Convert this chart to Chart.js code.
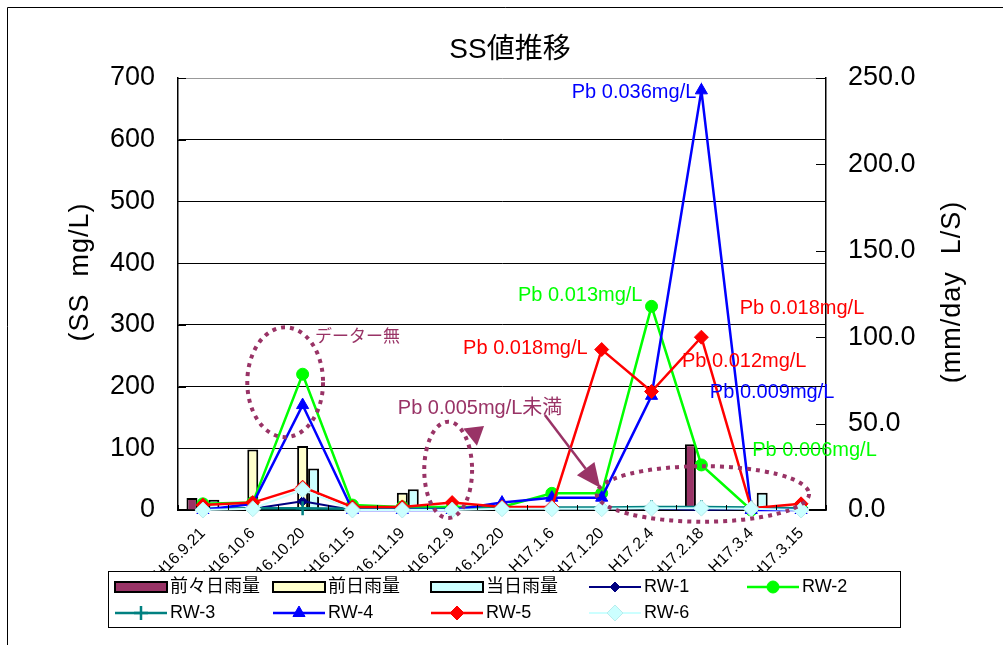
<!DOCTYPE html>
<html lang="ja">
<head>
<meta charset="utf-8">
<title>SS値推移</title>
<script src="https://cdn.jsdelivr.net/npm/chart.js@4.4.1/dist/chart.umd.min.js"></script>
<style>
  html, body { margin: 0; padding: 0; background: #fff; }
  #wrap { width: 1003px; height: 645px; }
</style>
</head>
<body>
<div id="wrap"><canvas id="ssChart" width="1003" height="645"></canvas></div>
<script>
const FONT = "'Liberation Sans', Arial, 'Noto Sans CJK JP', sans-serif";

// sampling dates
const dates = ['H16.9.21', 'H16.10.6', 'H16.10.20', 'H16.11.5', 'H16.11.19', 'H16.12.9', 'H16.12.20',
               'H17.1.6', 'H17.1.20', 'H17.2.4', 'H17.2.18', 'H17.3.4', 'H17.3.15'];

// rainfall (mm/day) - right axis
const rain2DaysBefore = [7, 0, 0, 0, 0, 0, 0, 0, 0, 0, 38, 0, 0];
const rainDayBefore   = [0, 35, 37, 0, 10, 0, 0, 0, 0, 0, 0, 0, 0];
const rainSameDay     = [6, 0, 24, 0, 12, 0, 0, 0, 0, 0, 0, 10, 0];

// SS (mg/L) at each well - left axis
const rw1 = [2, 2, 14, 0, 2, 2, 3, 3, 3, 3, 0, 2, 2];
const rw2 = [10, 12, 220, 8, 5, 5, 5, 27, 27, 330, 73, 0, 3];
const rw3 = [2, 3, 3, 2, 2, 2, 3, 4, 4, 5, 5, 4, 3];
const rw4 = [0, 10, 170, 0, 0, 0, 12, 20, 20, 185, 680, 0, 0];
const rw5 = [8, 12, 37, 5, 5, 12, 5, 5, 260, 192, 280, 3, 10];
const rw6 = [0, 2, 33, 0, 0, 0, 2, 2, 2, 3, 3, 2, 0];

// axis ranges
const ssMax = 700, ssStep = 100;
const rainMax = 250, rainStep = 50;

// lead notes, placed at (category index, SS value)
const notes = [
  { text: 'Pb 0.036mg/L', color: '#0000ff', at: [7.40, 676] },
  { text: 'Pb 0.013mg/L', color: '#00ff00', at: [6.32, 348] },
  { text: 'Pb 0.018mg/L', color: '#ff0000', at: [10.77, 327] },
  { text: 'Pb 0.018mg/L', color: '#ff0000', at: [5.22, 262] },
  { text: 'Pb 0.012mg/L', color: '#ff0000', at: [9.61, 240] },
  { text: 'Pb 0.009mg/L', color: '#0000ff', at: [10.17, 191] },
  { text: 'Pb 0.006mg/L', color: '#00ff00', at: [11.02, 97] },
  { text: 'Pb 0.005mg/L未満', color: '#993366', at: [3.91, 165] },
  { text: 'データー無', color: '#993366', at: [2.25, 280], size: 17 }
];
// dotted rings: centre (index, value), radius (index units, value units)
const rings = [
  { at: [1.65, 207], r: [0.76, 89] },
  { at: [4.92, 65], r: [0.48, 78] },
  { at: [10.03, 26], r: [2.13, 45] }
];
// arrows: from -> to, in (index, value)
const arrows = [
  { from: [5.36, 118], to: [5.64, 136], shaft: false },
  { from: [6.86, 154], to: [7.97, 36], shaft: true }
];

function lineSet(label, data, color, style, radius, order, extra) {
  return Object.assign({
    type: 'line', label, data, yAxisID: 'y', order, clip: false,
    borderColor: color, backgroundColor: color,
    pointBackgroundColor: color, pointBorderColor: color,
    pointStyle: style, pointRadius: radius, pointHoverRadius: radius,
    borderWidth: 2.5, pointBorderWidth: 1, tension: 0
  }, extra || {});
}

function barSet(label, data, color) {
  return {
    type: 'bar', label, data, yAxisID: 'y1', order: 20,
    backgroundColor: color, borderColor: '#000', borderWidth: 2,
    categoryPercentage: 0.66, barPercentage: 1.0
  };
}

const decor = {
  id: 'decor',
  afterDraw(chart) {
    const ctx = chart.ctx;
    const xs = chart.scales.x, ys = chart.scales.y, yr = chart.scales.y1;
    const area = chart.chartArea;
    const px = i => xs.getPixelForValue(i);
    const py = v => ys.getPixelForValue(v);

    ctx.save();
    // outer frame
    ctx.strokeStyle = '#000';
    ctx.lineWidth = 1;
    ctx.beginPath();
    ctx.moveTo(7.5, 645); ctx.lineTo(7.5, 7.5); ctx.lineTo(1003, 7.5);
    ctx.stroke();

    // inside tick marks
    ctx.beginPath();
    for (let v = 0; v <= ssMax; v += ssStep) {
      const y = Math.round(py(v)) + 0.5;
      ctx.moveTo(area.left, y); ctx.lineTo(area.left + 8, y);
    }
    for (let v = 0; v <= rainMax; v += rainStep) {
      const y = Math.round(yr.getPixelForValue(v)) + 0.5;
      ctx.moveTo(area.right - 10, y); ctx.lineTo(area.right, y);
    }
    for (let i = 0; i <= dates.length; i++) {
      const x = Math.round(px(i - 0.5)) + 0.5;
      ctx.moveTo(x, area.bottom); ctx.lineTo(x, area.bottom - 5);
    }
    ctx.stroke();

    // title and axis titles
    ctx.fillStyle = '#000';
    ctx.textAlign = 'center';
    ctx.textBaseline = 'middle';
    ctx.font = '28px ' + FONT;
    ctx.fillText('SS値推移', 510, 50);
    ctx.font = '27px ' + FONT;
    ctx.letterSpacing = '1px';
    ctx.save();
    ctx.translate(81, 272); ctx.rotate(-Math.PI / 2);
    ctx.fillText('(SS  mg/L)', 0, 0);
    ctx.restore();
    ctx.save();
    ctx.translate(953, 292); ctx.rotate(-Math.PI / 2);
    ctx.fillText('(mm/day  L/S)', 0, 0);
    ctx.restore();
    ctx.letterSpacing = '0px';

    // dotted rings
    ctx.strokeStyle = '#993366';
    ctx.lineWidth = 4;
    ctx.setLineDash([4, 5]);
    rings.forEach(r => {
      const cx = px(r.at[0]), cy = py(r.at[1]);
      const rx = px(r.at[0] + r.r[0]) - cx, ry = cy - py(r.at[1] + r.r[1]);
      ctx.beginPath();
      ctx.ellipse(cx, cy, rx, ry, 0, 0, Math.PI * 2);
      ctx.stroke();
    });
    ctx.setLineDash([]);

    // arrows
    ctx.fillStyle = '#993366';
    ctx.lineWidth = 2.5;
    arrows.forEach(a => {
      const x1 = px(a.from[0]), y1 = py(a.from[1]);
      const x2 = px(a.to[0]), y2 = py(a.to[1]);
      const len = Math.hypot(x2 - x1, y2 - y1);
      const ux = (x2 - x1) / len, uy = (y2 - y1) / len;
      const head = a.shaft ? 24 : len, half = 11;
      const bx = x2 - ux * head, by = y2 - uy * head;
      if (a.shaft) {
        ctx.beginPath(); ctx.moveTo(x1, y1); ctx.lineTo(bx, by); ctx.stroke();
      }
      ctx.beginPath();
      ctx.moveTo(x2, y2);
      ctx.lineTo(bx - uy * half, by + ux * half);
      ctx.lineTo(bx + uy * half, by - ux * half);
      ctx.closePath();
      ctx.fill();
    });

    // lead notes
    ctx.textAlign = 'left';
    notes.forEach(n => {
      ctx.font = (n.size || 20) + 'px ' + FONT;
      ctx.fillStyle = n.color;
      ctx.fillText(n.text, px(n.at[0]), py(n.at[1]));
    });

    // legend (white box sits over the ends of the date labels)
    ctx.fillStyle = '#fff';
    ctx.fillRect(108.5, 571.5, 792, 56);
    ctx.strokeStyle = '#000';
    ctx.lineWidth = 1;
    ctx.strokeRect(108.5, 571.5, 792, 56);
    const cols = [115, 273, 431, 589, 747];
    const rows = [587, 613];
    ctx.font = '18px ' + FONT;
    ctx.textBaseline = 'middle';
    chart.data.datasets.forEach((ds, k) => {
      const x = cols[k % 5], y = rows[Math.floor(k / 5)];
      if (ds.type === 'bar') {
        ctx.fillStyle = ds.backgroundColor;
        ctx.fillRect(x, y - 5, 52, 10);
        ctx.lineWidth = 2;
        ctx.strokeStyle = '#000';
        ctx.strokeRect(x, y - 5, 52, 10);
      } else {
        ctx.strokeStyle = ds.borderColor;
        ctx.lineWidth = ds.borderWidth;
        ctx.beginPath(); ctx.moveTo(x, y); ctx.lineTo(x + 52, y); ctx.stroke();
        ctx.fillStyle = ds.pointBackgroundColor;
        ctx.strokeStyle = ds.pointBorderColor;
        ctx.lineWidth = ds.pointBorderWidth;
        Chart.helpers.drawPoint(ctx, {
          pointStyle: ds.pointStyle, radius: ds.pointRadius, rotation: 0,
          borderWidth: ds.pointBorderWidth
        }, x + 26, y);
      }
      ctx.fillStyle = '#000';
      ctx.fillText(ds.label, x + 55, y);
    });
    ctx.restore();
  }
};

const ssChart = new Chart(document.getElementById('ssChart').getContext('2d'), {
  type: 'bar',
  data: {
    labels: dates,
    datasets: [
      barSet('前々日雨量', rain2DaysBefore, '#993366'),
      barSet('前日雨量', rainDayBefore, '#ffffcc'),
      barSet('当日雨量', rainSameDay, '#ccffff'),
      lineSet('RW-1', rw1, '#000080', 'rectRot', 5, 6, { borderWidth: 2 }),
      lineSet('RW-2', rw2, '#00ff00', 'circle', 6, 5),
      lineSet('RW-3', rw3, '#008080', 'cross', 7, 4, { pointBorderWidth: 2.5 }),
      lineSet('RW-4', rw4, '#0000ff', 'triangle', 7, 3),
      lineSet('RW-5', rw5, '#ff0000', 'rectRot', 7, 2),
      lineSet('RW-6', rw6, '#ccffff', 'rectRot', 8, 1, { borderWidth: 2, pointBorderColor: '#b8ecec' })
    ]
  },
  options: {
    responsive: false,
    animation: false,
    layout: { padding: { left: 0, right: 0, top: 78, bottom: 60 } },
    plugins: { legend: { display: false }, title: { display: false }, tooltip: { enabled: false } },
    scales: {
      x: {
        grid: { display: false },
        border: { display: true, color: '#000', width: 1.5 },
        ticks: {
          autoSkip: false, minRotation: 45, maxRotation: 45, padding: 6,
          color: '#000', font: { family: FONT, size: 16 }
        },
        afterFit(scale) { scale.height = 75; }
      },
      y: {
        position: 'left', min: 0, max: ssMax,
        grid: {
          drawTicks: false, lineWidth: 1,
          color: c => c.tick && c.tick.value === ssMax ? '#999' : '#000'
        },
        border: { display: true, color: '#000', width: 1.5 },
        ticks: { stepSize: ssStep, padding: 23, color: '#000', font: { family: FONT, size: 27 } },
        afterFit(scale) { scale.width = 178; }
      },
      y1: {
        position: 'right', min: 0, max: rainMax,
        grid: { drawOnChartArea: false, drawTicks: false },
        border: { display: true, color: '#000', width: 1.5 },
        ticks: {
          stepSize: rainStep, padding: 22, color: '#000', font: { family: FONT, size: 27 },
          callback: v => v.toFixed(1)
        },
        afterFit(scale) { scale.width = 177; }
      }
    }
  },
  plugins: [decor]
});
</script>
</body>
</html>
